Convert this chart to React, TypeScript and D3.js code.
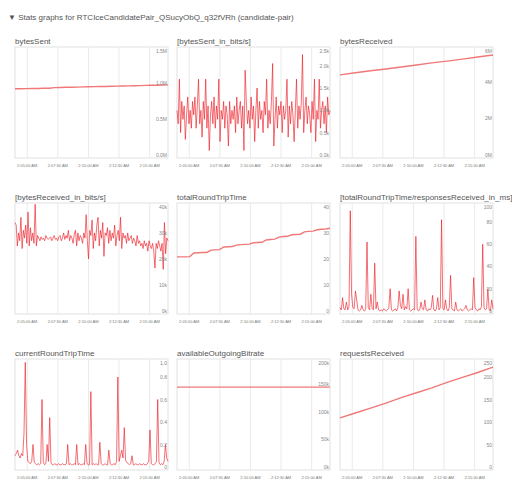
import { useEffect, useRef } from 'react'
import * as d3 from 'd3'

// time window of every graph
const startTime = new Date(2024, 0, 1, 2, 4, 0)
const endTime = new Date(2024, 0, 1, 2, 16, 30)
const timeTicks = [
  new Date(2024, 0, 1, 2, 5, 0),
  new Date(2024, 0, 1, 2, 7, 30),
  new Date(2024, 0, 1, 2, 10, 0),
  new Date(2024, 0, 1, 2, 12, 30),
  new Date(2024, 0, 1, 2, 15, 0),
]

const headerText = '▼ Stats graphs for RTCIceCandidatePair_QSucyObQ_q32fVRh (candidate-pair)'

const bytesSent = [0.915, 0.915, 0.916, 0.917, 0.918, 0.92, 0.921, 0.93, 0.932, 0.934, 0.935, 0.937, 0.94, 0.941, 0.943, 0.945, 0.946, 0.948, 0.95, 0.952, 0.954, 0.955, 0.957, 0.96, 0.962, 0.963, 0.965, 0.967]
const bytesSentTicks = [0, 0.5, 1.0, 1.5]
const bytesSentLabels = ['0.0M', '0.5M', '1.0M', '1.5M']

const bytesSentBits = [1.0, 0.7, 1.7, 0.5, 1.2, 0.8, 1.1, 0.35, 0.9, 1.3, 0.7, 1.0, 0.6, 1.2, 0.9, 1.3, 0.6, 1.1, 1.7, 0.7, 1.0, 0.4, 1.2, 0.8, 1.7, 0.6, 1.1, 0.1, 0.9, 1.2, 0.7, 1.3, 0.6, 1.1, 0.8, 1.7, 0.3, 1.0, 0.8, 1.2, 0.6, 1.1, 0.9, 0.2, 1.2, 0.7, 1.0, 0.8, 1.1, 0.5, 1.3, 0.7, 1.0, 1.2, 0.6, 1.1, 0.1, 1.9, 1.2, 0.7, 1.0, 0.6, 1.3, 0.8, 1.1, 0.3, 1.0, 1.5, 0.6, 1.2, 0.8, 1.0, 0.5, 1.2, 0.9, 1.7, 0.6, 1.0, 0.7, 1.2, 2.05, 0.2, 0.8, 1.3, 0.6, 1.1, 0.9, 1.2, 0.5, 1.1, 0.8, 1.0, 1.7, 0.4, 1.1, 0.7, 1.2, 0.9, 0.3, 1.0, 1.7, 0.6, 1.1, 0.8, 1.2, 2.25, 0.5, 1.0, 1.3, 0.7, 1.1, 0.9, 0.5, 1.2, 0.8, 1.7, 0.3, 1.0, 0.8, 1.7, 0.6, 1.0, 1.2, 0.7, 1.1, 0.5, 1.3, 0.9, 1.0]
const bytesSentBitsTicks = [0, 0.5, 1.0, 1.5, 2.0, 2.5]
const bytesSentBitsLabels = ['0.0k', '0.5k', '1.0k', '1.5k', '2.0k', '2.5k']

const bytesReceived = [4.38, 4.49, 4.6, 4.7, 4.81, 4.92, 5.03, 5.13, 5.24, 5.35, 5.46]
const bytesReceivedTicks = [0, 2, 4, 6]
const bytesReceivedLabels = ['0M', '2M', '4M', '6M']

const bytesReceivedBits = [34, 33, 25, 30, 27, 36, 24, 31, 28, 33, 26, 38, 25, 32, 27, 30, 26, 41, 25, 29, 28, 27, 28.5, 27.5, 28, 27, 29, 28, 27.5, 28, 28.5, 27, 28, 29, 27.5, 28, 27, 28.5, 29, 27, 28, 30, 27.5, 29, 28, 31, 27, 29, 28, 26, 29.5, 31, 25, 30, 27, 29, 28, 26, 30, 28, 37, 27, 20, 31, 29, 35, 24, 30, 27, 33, 36, 25, 31, 28, 34, 21, 30, 29, 32, 26, 31, 27, 30, 28, 33, 25, 29, 31, 27, 36, 24, 30, 28, 29, 26, 30, 27, 28, 29, 26, 28, 27, 25, 29, 26, 27, 25, 26, 24, 27, 25, 26, 23, 27, 25, 24, 26, 23, 16.5, 26, 24, 27, 25, 23, 26, 16, 34, 22, 28, 27]
const bytesReceivedBitsTicks = [0, 10, 20, 30, 40]
const bytesReceivedBitsLabels = ['0k', '10k', '20k', '30k', '40k']

const totalRoundTripTime = [20.8, 20.8, 20.8, 20.9, 22.3, 22.4, 22.5, 22.5, 23.4, 23.5, 23.6, 24.6, 24.7, 24.8, 25.3, 25.5, 25.6, 25.7, 26.2, 26.3, 26.4, 27.3, 27.5, 27.6, 28.4, 28.6, 28.7, 29.3, 29.4, 29.5, 30.4, 30.6, 30.7, 31.2, 31.4, 31.5, 31.8]
const totalRoundTripTimeTicks = [0, 10, 20, 30, 40]
const totalRoundTripTimeLabels = ['0', '10', '20', '30', '40']

const rttPerResponse = [3, 1, 12, 2, 1, 8, 1, 4, 90, 15, 3, 2, 18, 10, 1, 0, 1, 5, 1, 0, 2, 62, 3, 1, 15, 2, 1, 43, 2, 8, 1, 0, 1, 0, 2, 1, 0, 1, 3, 20, 1, 0, 1, 2, 0, 3, 18, 5, 2, 15, 1, 4, 2, 20, 1, 0, 1, 2, 1, 67, 2, 0, 1, 8, 2, 1, 10, 1, 0, 2, 1, 3, 14, 1, 0, 2, 12, 1, 3, 82, 2, 1, 10, 2, 0, 3, 32, 2, 1, 0, 8, 1, 0, 1, 2, 0, 1, 2, 5, 1, 0, 1, 2, 1, 30, 3, 1, 0, 2, 1, 4, 60, 3, 1, 2, 20, 1, 0, 10, 2]
const rttPerResponseTicks = [0, 20, 40, 60, 80, 100]
const rttPerResponseLabels = ['0', '20', '40', '60', '80', '100']

const currentRoundTripTime = [0.1, 0.12, 0.15, 0.1, 0.08, 0.12, 0.1, 0.3, 0.93, 0.2, 0.05, 0.04, 0.03, 0.05, 0.2, 0.04, 0.03, 0.02, 0.03, 0.02, 0.03, 0.6, 0.04, 0.02, 0.03, 0.2, 0.05, 0.44, 0.04, 0.02, 0.02, 0.03, 0.02, 0.02, 0.03, 0.02, 0.02, 0.03, 0.02, 0.02, 0.03, 0.2, 0.02, 0.03, 0.02, 0.02, 0.03, 0.02, 0.2, 0.02, 0.03, 0.02, 0.02, 0.03, 0.02, 0.2, 0.03, 0.02, 0.02, 0.67, 0.02, 0.03, 0.02, 0.03, 0.02, 0.02, 0.22, 0.03, 0.02, 0.02, 0.03, 0.02, 0.02, 0.15, 0.03, 0.02, 0.02, 0.03, 0.02, 0.05, 0.8, 0.05, 0.1, 0.15, 0.08, 0.35, 0.06, 0.04, 0.03, 0.02, 0.03, 0.1, 0.02, 0.02, 0.03, 0.02, 0.02, 0.03, 0.02, 0.02, 0.03, 0.02, 0.02, 0.03, 0.05, 0.33, 0.03, 0.02, 0.02, 0.03, 0.05, 0.6, 0.04, 0.02, 0.03, 0.02, 0.05, 0.2, 0.08, 0.05]
const currentRoundTripTimeTicks = [0, 0.2, 0.4, 0.6, 0.8, 1.0]
const currentRoundTripTimeLabels = ['0', '0.2', '0.4', '0.6', '0.8', '1.0']

const availableOutgoingBitrate = [145, 145, 145, 145, 145, 145, 145, 145, 145, 145]
const availableOutgoingBitrateTicks = [0, 50, 100, 150, 200]
const availableOutgoingBitrateLabels = ['0k', '50k', '100k', '150k', '200k']

const requestsReceived = [109, 120, 131, 142, 154, 165, 176, 188, 199, 210, 222]
const requestsReceivedTicks = [0, 50, 100, 150, 200, 250]
const requestsReceivedLabels = ['0', '50', '100', '150', '200', '250']

const graphs = [
  { title: 'bytesSent', values: bytesSent, yMax: 1.49, ticks: bytesSentTicks, labels: bytesSentLabels, noisy: false },
  { title: '[bytesSent_in_bits/s]', values: bytesSentBits, yMax: 2.42, ticks: bytesSentBitsTicks, labels: bytesSentBitsLabels, noisy: true },
  { title: 'bytesReceived', values: bytesReceived, yMax: 5.9, ticks: bytesReceivedTicks, labels: bytesReceivedLabels, noisy: false },
  { title: '[bytesReceived_in_bits/s]', values: bytesReceivedBits, yMax: 41.5, ticks: bytesReceivedBitsTicks, labels: bytesReceivedBitsLabels, noisy: true },
  { title: 'totalRoundTripTime', values: totalRoundTripTime, yMax: 41.5, ticks: totalRoundTripTimeTicks, labels: totalRoundTripTimeLabels, noisy: false },
  { title: '[totalRoundTripTime/responsesReceived_in_ms]', values: rttPerResponse, yMax: 97, ticks: rttPerResponseTicks, labels: rttPerResponseLabels, noisy: true },
  { title: 'currentRoundTripTime', values: currentRoundTripTime, yMax: 0.96, ticks: currentRoundTripTimeTicks, labels: currentRoundTripTimeLabels, noisy: true },
  { title: 'availableOutgoingBitrate', values: availableOutgoingBitrate, yMax: 196, ticks: availableOutgoingBitrateTicks, labels: availableOutgoingBitrateLabels, noisy: false },
  { title: 'requestsReceived', values: requestsReceived, yMax: 240, ticks: requestsReceivedTicks, labels: requestsReceivedLabels, noisy: false },
]

const colLeft = [15, 177, 340]
const rowTop = [47, 203, 359]
const boxW = 153
const boxH = 111

export default function App() {
  const svgRef = useRef<SVGSVGElement>(null)

  useEffect(() => {
    if (!svgRef.current) return
    const svg = d3.select(svgRef.current)
    svg.selectAll('*').remove()
    const font = 'Arial, "Liberation Sans", sans-serif'
    const fmt = d3.timeFormat('%-I:%M:%S %p')

    svg.append('rect').attr('width', 512).attr('height', 480).attr('fill', '#fff')

    svg.append('text')
      .attr('x', 8).attr('y', 20)
      .attr('font-family', font).attr('font-size', '8px').attr('fill', '#555')
      .text(headerText)

    graphs.forEach((gr, i) => {
      const left = colLeft[i % 3]
      const top = rowTop[Math.floor(i / 3)]
      const bottom = top + boxH
      const right = left + boxW

      const x = d3.scaleTime().domain([startTime, endTime]).range([left, right])
      const y = d3.scaleLinear().domain([0, gr.yMax]).range([bottom - 3, top])
      const step = (endTime.getTime() - startTime.getTime()) / (gr.values.length - 1)

      const g = svg.append('g')

      g.append('text')
        .attr('x', left).attr('y', top - 3)
        .attr('font-family', font).attr('font-size', '8px').attr('fill', '#555')
        .text(gr.title)

      g.append('rect')
        .attr('x', left).attr('y', top).attr('width', boxW).attr('height', boxH)
        .attr('fill', '#fff').attr('stroke', '#d9d9d9').attr('stroke-width', 0.8)

      // vertical grid
      timeTicks.forEach(t => {
        g.append('line')
          .attr('x1', x(t)).attr('x2', x(t)).attr('y1', top).attr('y2', bottom)
          .attr('stroke', '#e4e4e4').attr('stroke-width', 0.8)
        g.append('text')
          .attr('x', x(t)).attr('y', bottom + 9)
          .attr('text-anchor', 'middle')
          .attr('font-family', font).attr('font-size', '4px').attr('fill', '#777')
          .text(fmt(t))
      })

      const line = d3.line<number>()
        .x((_, j) => x(new Date(startTime.getTime() + j * step)))
        .y(v => y(v))

      g.append('path')
        .datum(gr.values)
        .attr('d', line)
        .attr('fill', 'none')
        .attr('stroke', gr.noisy ? '#ec1c26' : '#f07878')
        .attr('stroke-width', gr.noisy ? 0.8 : 1.4)
        .attr('stroke-opacity', gr.noisy ? 0.8 : 1)

      // y tick labels inside the right edge
      gr.ticks.forEach((v, k) => {
        const ty = Math.min(Math.max(y(v) + 2, top + 6), bottom - 1)
        g.append('text')
          .attr('x', right - 1).attr('y', ty)
          .attr('text-anchor', 'end')
          .attr('font-family', font).attr('font-size', '5px').attr('fill', '#888')
          .text(gr.labels[k])
      })
    })
  }, [])

  return (
    <div style={{ position: 'absolute', left: 0, top: 0 }}>
      <svg ref={svgRef} width={512} height={480} style={{ display: 'block' }} />
    </div>
  )
}
